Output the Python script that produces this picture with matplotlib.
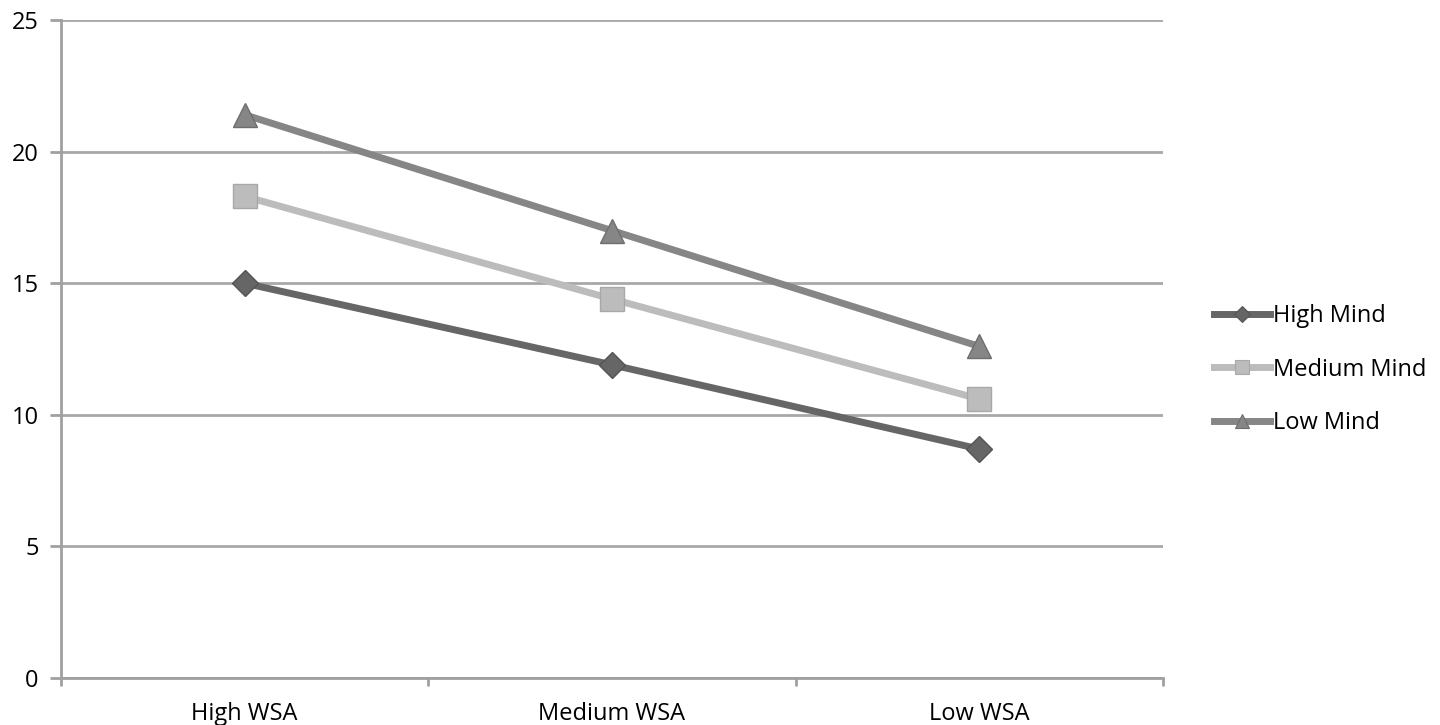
import matplotlib.pyplot as plt
from matplotlib.lines import Line2D

plt.rcParams['font.family'] = ['Open Sans', 'DejaVu Sans']

# data
categories = ['High WSA', 'Medium WSA', 'Low WSA']
high_mind = [15.0, 11.9, 8.7]
medium_mind = [18.3, 14.4, 10.6]
low_mind = [21.4, 17.0, 12.6]
series_names = ['High Mind', 'Medium Mind', 'Low Mind']
y_ticks = [0, 5, 10, 15, 20, 25]

colors = ['#666666', '#bcbcbc', '#868686']
edge_colors = ['#555555', '#a8a8a8', '#6e6e6e']
markers = ['D', 's', '^']
sizes = [13, 17, 17]

fig = plt.figure(figsize=(14.4, 7.25), dpi=100)
ax = fig.add_axes([0.0424, 0.0648, 0.7652, 0.9076])

x = list(range(len(categories)))
for vals, name, c, ec, m, s in zip([high_mind, medium_mind, low_mind], series_names,
                                   colors, edge_colors, markers, sizes):
    ax.plot(x, vals, color=c, lw=5, marker=m, ms=s, mfc=c, mec=ec, mew=1, label=name, zorder=3)

ax.set_xlim(-0.5, 2.5)
ax.set_ylim(0, 25)
ax.set_yticks(y_ticks)
ax.set_yticklabels([str(v) for v in y_ticks], fontsize=17)
ax.set_xticks(x)
ax.set_xticklabels(categories, fontsize=17)
ax.tick_params(axis='x', length=0, pad=17)
ax.set_xticks([-0.5, 0.5, 1.5, 2.5], minor=True)
ax.tick_params(axis='x', which='minor', length=6, color='#a0a0a0', width=2, direction='out')
ax.tick_params(axis='y', length=8, color='#a0a0a0', width=2, pad=8)

ax.grid(axis='y', color='#a8a8a8', lw=2)
ax.set_axisbelow(True)
for side in ['top', 'right']:
    ax.spines[side].set_visible(False)
for side in ['left', 'bottom']:
    ax.spines[side].set_color('#a0a0a0')
    ax.spines[side].set_linewidth(2)

handles = [Line2D([0], [0], color=c, lw=5, marker=m, ms=s * 0.6, mfc=c, mec=ec, mew=0.8)
           for c, ec, m, s in zip(colors, edge_colors, markers, sizes)]
fig.legend(handles, series_names, loc='center left', bbox_to_anchor=(0.828, 0.49),
           frameon=False, fontsize=17, handlelength=2.4, handletextpad=0.1, labelspacing=1.25)

fig.savefig('out.png', dpi=100, facecolor='white')
